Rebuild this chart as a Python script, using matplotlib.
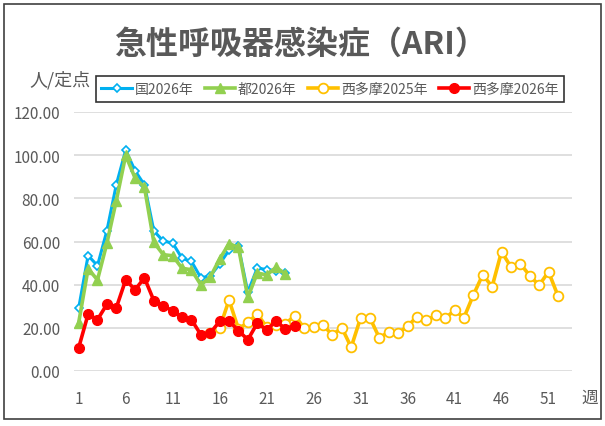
import numpy as np
import matplotlib
matplotlib.use('Agg')
import matplotlib.pyplot as plt
from matplotlib.patches import Rectangle

plt.rcParams['font.family'] = ['Noto Sans CJK JP', 'DejaVu Sans']

# Weekly values (persons per sentinel site)
weeks_2026 = np.arange(1, 24)
national_2026 = [29.2, 53.5, 48.8, 65.0, 86.3, 102.3, 92.8, 86.2, 64.9, 60.2,
                 59.3, 52.2, 50.8, 43.2, 44.0, 49.6, 56.0, 57.8, 36.5, 47.7,
                 47.0, 46.5, 45.4]
tokyo_2026 = [22.4, 47.4, 42.2, 59.2, 78.9, 99.9, 89.4, 85.1, 59.6, 53.9,
              53.4, 47.6, 46.9, 39.9, 43.5, 51.9, 59.0, 57.3, 34.1, 45.4,
              44.5, 48.0, 45.0]
weeks_nishitama_2026 = np.arange(1, 25)
nishitama_2026 = [10.8, 26.3, 23.8, 30.9, 29.3, 42.2, 37.7, 43.1, 32.6, 30.3,
                  27.8, 24.9, 23.8, 16.8, 17.6, 23.0, 23.2, 18.7, 14.5, 22.1,
                  19.2, 23.0, 19.6, 21.0]
weeks_nishitama_2025 = np.arange(15, 53)
nishitama_2025 = [17.8, 19.9, 32.9, 19.5, 22.5, 26.4, 20.5, 21.5, 21.8, 25.7,
                  19.9, 20.2, 21.3, 16.7, 20.1, 11.0, 24.6, 24.6, 15.3, 18.2,
                  17.6, 20.7, 25.2, 23.5, 25.8, 24.4, 28.1, 24.7, 35.2, 44.6,
                  39.1, 55.3, 48.2, 49.7, 44.2, 39.7, 46.0, 34.9]

xticks = np.arange(1, 53, 5)
yticks = np.arange(0, 121, 20)
gray = '#595959'

fig = plt.figure(figsize=(6.05, 4.27), dpi=100)
ax = fig.add_axes([74/605, 1-372/427, (572-74)/605, (372-113)/427])

ax.plot(weeks_2026, national_2026, color='#00B0F0', lw=2.2, marker='D', ms=4.5,
        mfc='white', mec='#00B0F0', mew=1.2, label='国2026年')
ax.plot(weeks_2026, tokyo_2026, color='#92D050', lw=2.6, marker='^', ms=6.5,
        mfc='#92D050', mec='#92D050', label='都2026年')
ax.plot(weeks_nishitama_2025, nishitama_2025, color='#FFC000', lw=2.6, marker='o', ms=7,
        mfc='white', mec='#FFC000', mew=1.3, label='西多摩2025年')
ax.plot(weeks_nishitama_2026, nishitama_2026, color='#FF0000', lw=2.6, marker='o', ms=7,
        mfc='#FF0000', mec='#FF0000', label='西多摩2026年')

ax.set_xlim(0.5, 53.5)
ax.set_ylim(0, 120)
ax.set_xticks(xticks)
ax.set_yticks(yticks)
ax.set_yticklabels(['%.2f' % v for v in yticks])
ax.grid(axis='y', color='#D9D9D9', lw=1.2)
ax.set_axisbelow(True)
for s in ax.spines.values():
    s.set_visible(False)
ax.tick_params(length=0, labelsize=11, labelcolor=gray)
ax.tick_params(axis='x', pad=14)
ax.tick_params(axis='y', pad=10)

fig.text(300/605, 1-45/427, '急性呼吸器感染症（ARI）', ha='center', va='center',
         fontsize=23, fontweight='bold', color=gray)
fig.text(60/605, 1-80/427, '人/定点', ha='center', va='center', fontsize=13, color=gray)
fig.text(590/605, 1-398/427, '週', ha='center', va='center', fontsize=12, color=gray)

leg = fig.legend(loc='center', bbox_to_anchor=(330/605, 1-90/427), ncol=4,
                 fontsize=10, frameon=True, fancybox=False, edgecolor='black',
                 handlelength=2.2, handletextpad=0.2, columnspacing=0.8,
                 borderpad=0.4, labelcolor=gray)
leg.get_frame().set_linewidth(1.2)

fig.patches.append(Rectangle((4/605, 1-420/427), 597/605, 415/427, transform=fig.transFigure,
                             fill=False, edgecolor='#404040', lw=1.2))

fig.savefig('out.png', dpi=100)
